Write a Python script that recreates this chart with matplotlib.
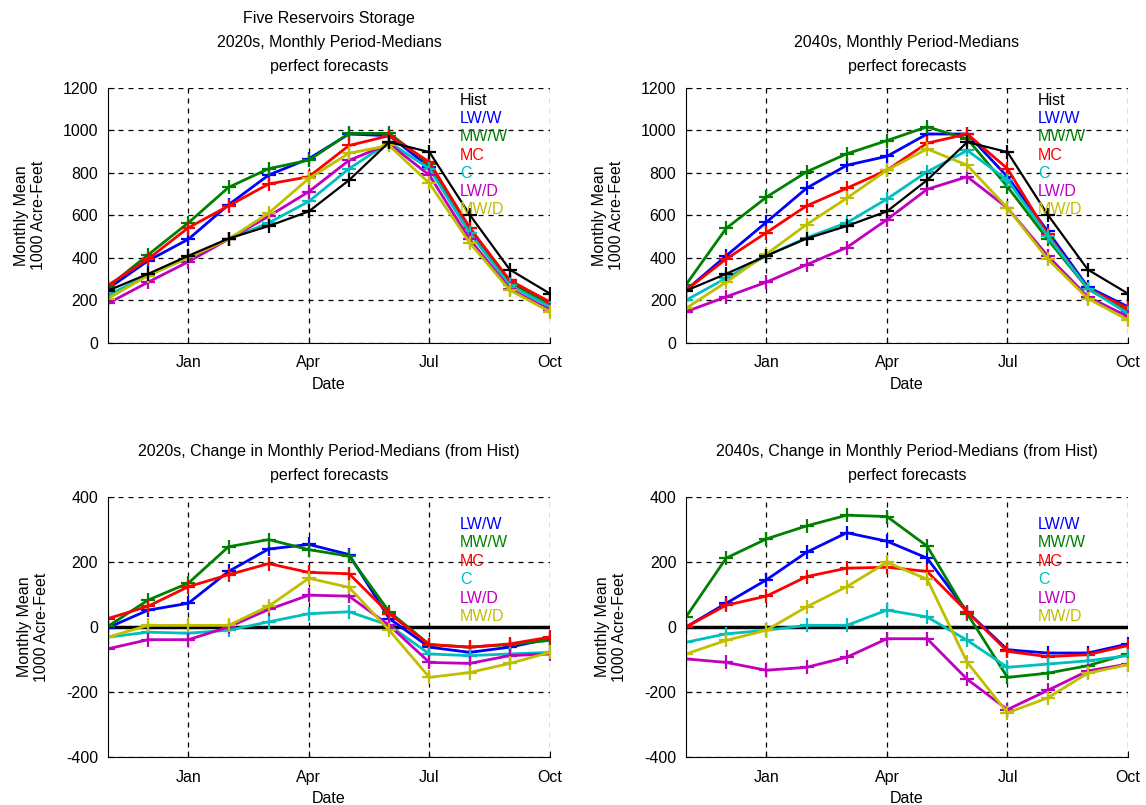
import matplotlib.pyplot as plt

plt.rcParams["font.family"] = ["Liberation Sans", "DejaVu Sans"]
plt.rcParams["font.size"] = 11.5
plt.rcParams["axes.unicode_minus"] = False

# months Nov..Oct
months = ["Nov", "Dec", "Jan", "Feb", "Mar", "Apr", "May", "Jun", "Jul", "Aug", "Sep", "Oct"]
tick_months = ["Jan", "Apr", "Jul", "Oct"]
names = ["LW/W", "MW/W", "MC", "C", "LW/D", "MW/D"]
colors = ["#0000ff", "#008000", "#ff0000", "#00bfbf", "#bf00bf", "#bfbf00"]

hist = [246, 325, 410, 491, 550, 619, 766, 945, 898, 604, 345, 232]

# 2020s storage
s20_lww = [255, 387, 488, 650, 790, 867, 983, 975, 828, 518, 294, 186]
s20_mww = [263, 415, 565, 732, 820, 860, 986, 986, 843, 542, 286, 181]
s20_mc = [271, 395, 542, 645, 748, 782, 929, 975, 851, 542, 294, 193]
s20_c = [225, 317, 402, 488, 565, 666, 820, 944, 820, 518, 271, 170]
s20_lwd = [186, 286, 382, 488, 596, 712, 859, 937, 789, 488, 255, 155]
s20_mwd = [209, 317, 402, 488, 611, 774, 893, 929, 751, 472, 248, 147]

# 2040s storage
s40_lww = [248, 410, 568, 728, 836, 878, 983, 983, 782, 526, 263, 170]
s40_mww = [274, 539, 686, 805, 890, 952, 1017, 960, 735, 488, 255, 147]
s40_mc = [248, 395, 519, 645, 728, 813, 940, 983, 820, 511, 255, 163]
s40_c = [201, 305, 410, 495, 565, 677, 805, 906, 766, 503, 255, 139]
s40_lwd = [147, 217, 286, 368, 449, 580, 723, 782, 635, 410, 217, 124]
s40_mwd = [163, 286, 418, 557, 681, 813, 913, 836, 635, 395, 209, 108]

# 2020s change from Hist
d20_lww = [-2, 52, 73, 171, 240, 254, 223, 26, -62, -78, -62, -36]
d20_mww = [2, 83, 135, 247, 269, 238, 218, 47, -54, -62, -54, -41]
d20_mc = [26, 64, 124, 161, 195, 168, 164, 41, -54, -62, -52, -31]
d20_c = [-31, -16, -19, -10, 16, 41, 47, 5, -83, -88, -83, -78]
d20_lwd = [-67, -39, -39, 0, 54, 98, 95, 5, -109, -112, -88, -83]
d20_mwd = [-31, 5, 5, 5, 64, 150, 122, -10, -155, -140, -112, -78]

# 2040s change from Hist
d40_lww = [0, 73, 145, 230, 290, 264, 212, 47, -70, -80, -80, -52]
d40_mww = [31, 212, 271, 311, 344, 340, 249, 41, -155, -142, -119, -83]
d40_mc = [0, 67, 95, 155, 181, 184, 171, 47, -75, -91, -85, -57]
d40_c = [-47, -21, -10, 5, 5, 52, 31, -41, -124, -114, -104, -88]
d40_lwd = [-98, -109, -133, -124, -93, -36, -36, -161, -254, -195, -135, -114]
d40_mwd = [-83, -41, -10, 62, 124, 199, 147, -109, -264, -218, -142, -116]

fig = plt.figure(figsize=(11.46, 8.05), dpi=100)
x = list(range(len(months)))
xticks = [months.index(m) for m in tick_months]


def setup(ax, title, ylim, yticks):
    ax.set_xlim(0, 11)
    ax.set_ylim(*ylim)
    ax.set_xticks(xticks)
    ax.set_xticklabels(tick_months)
    ax.set_yticks(yticks)
    ax.grid(True, color="black", linestyle=(0, (4, 4)), linewidth=0.9)
    ax.spines["top"].set_visible(False)
    ax.spines["right"].set_visible(False)
    ax.tick_params(direction="in", length=4)
    ax.tick_params(axis="x", pad=9)
    ax.tick_params(axis="y", pad=7)
    ax.set_title(title, fontsize=11.5, linespacing=1.75, pad=12)
    ax.set_xlabel("Date", labelpad=5)
    ax.set_ylabel("Monthly Mean\n1000 Acre-Feet", labelpad=12)


def legend(ax, labels, cols, y0):
    for i, (lab, c) in enumerate(zip(labels, cols)):
        ax.text(0.796, y0 - i * 0.0715, lab, color=c, transform=ax.transAxes,
                fontsize=11.5, va="top", ha="left")


axes_pos = [[0.0942, 0.574, 0.3857, 0.3168], [0.5986, 0.574, 0.3857, 0.3168],
            [0.0942, 0.0596, 0.3857, 0.323], [0.5986, 0.0596, 0.3857, 0.323]]

top_sets = [
    ("Five Reservoirs Storage\n2020s, Monthly Period-Medians\nperfect forecasts",
     [s20_lww, s20_mww, s20_mc, s20_c, s20_lwd, s20_mwd]),
    ("2040s, Monthly Period-Medians\nperfect forecasts",
     [s40_lww, s40_mww, s40_mc, s40_c, s40_lwd, s40_mwd]),
]
for k, (title, series) in enumerate(top_sets):
    ax = fig.add_axes(axes_pos[k])
    for vals, c in zip(series, colors):
        ax.plot(x, vals, color=c, marker="+", markersize=10, markeredgewidth=1.6, linewidth=2)
    ax.plot(x, hist, color="black", marker="+", markersize=10, markeredgewidth=1.6, linewidth=1.6)
    setup(ax, title, (0, 1200), range(0, 1201, 200))
    legend(ax, ["Hist"] + names, ["black"] + colors, 0.98)

bottom_sets = [
    ("2020s, Change in Monthly Period-Medians (from Hist)\nperfect forecasts",
     [d20_lww, d20_mww, d20_mc, d20_c, d20_lwd, d20_mwd]),
    ("2040s, Change in Monthly Period-Medians (from Hist)\nperfect forecasts",
     [d40_lww, d40_mww, d40_mc, d40_c, d40_lwd, d40_mwd]),
]
for k, (title, series) in enumerate(bottom_sets):
    ax = fig.add_axes(axes_pos[k + 2])
    ax.axhline(0, color="black", linewidth=2.5, zorder=1.5)
    for vals, c in zip(series, colors):
        ax.plot(x, vals, color=c, marker="+", markersize=10, markeredgewidth=1.6, linewidth=2)
    setup(ax, title, (-400, 400), range(-400, 401, 200))
    legend(ax, names, colors, 0.925)

fig.savefig("out.png", dpi=100)
